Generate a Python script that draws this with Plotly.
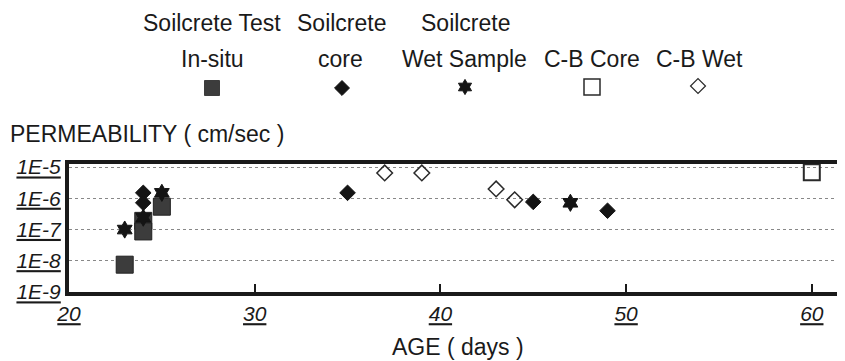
import plotly.graph_objects as go

# ---- data ----
insitu_days = [23, 24, 24, 25]
insitu_perm = [7.5e-9, 1.9e-7, 8.7e-8, 5.4e-7]

core_days = [24, 24, 35, 45, 49]
core_perm = [1.5e-6, 7.2e-7, 1.5e-6, 7.7e-7, 4.0e-7]

wet_days = [23, 24, 25, 47]
wet_perm = [1.0e-7, 2.4e-7, 1.5e-6, 7.2e-7]

cb_core_days = [60]
cb_core_perm = [6.9e-6]

cb_wet_days = [37, 39, 42, 43, 44]
cb_wet_perm = [6.5e-6, 6.5e-6, 1.26e-5, 2.0e-6, 9.0e-7]

x_ticks = [20, 30, 40, 50, 60]
x_minor_ticks = [25, 35, 45, 55]
y_ticks = [1e-9, 1e-8, 1e-7, 1e-6, 1e-5]
y_tick_labels = ["1E-9", "1E-8", "1E-7", "1E-6", "1E-5"]

legend_line1 = ["Soilcrete Test", "Soilcrete", "Soilcrete", "", ""]
legend_line2 = ["In-situ", "core", "Wet Sample", "C-B Core", "C-B Wet"]

FONT = "Arial, Liberation Sans, Helvetica, sans-serif"
INK = "#1a1a1a"

# the page body adds an 8px margin; the figure is sized to fill the window
OFF = 8
PAGE_W, PAGE_H = 845, 361
W, H = PAGE_W - OFF, PAGE_H - OFF


def px_x(p):
    return (p - OFF) / W


def px_y(p):
    return 1 - (p - OFF) / H


fig = go.Figure()


def add(x, y, symbol, size, fill, line_color, lw):
    fig.add_trace(go.Scatter(
        x=x, y=y, mode="markers", cliponaxis=False, showlegend=False,
        marker=dict(symbol=symbol, size=size, color=fill,
                    line=dict(color=line_color, width=lw)),
    ))


add(insitu_days, insitu_perm, "square", 17, "#3c3c3c", "#222", 1)
add(core_days, core_perm, "diamond", 12, "#141414", "#141414", 1)
add(wet_days, wet_perm, "hexagram", 13, "#141414", "#141414", 1)
add(cb_core_days, cb_core_perm, "square-open", 16, "#2a2a2a", "#2a2a2a", 2)
add(cb_wet_days, cb_wet_perm, "diamond-open", 12, "#2a2a2a", "#2a2a2a", 1.5)

# ---- legend (custom) on a page-pixel overlay axis ----
leg_x = [212, 342, 465, 592, 698]
leg_y = [88, 88, 87, 87, 86]
leg_sym = ["square", "diamond", "hexagram", "square-open", "diamond-open"]
leg_size = [15, 11.5, 11.5, 16, 11.5]
leg_fill = ["#3c3c3c", "#141414", "#141414", "#2a2a2a", "#2a2a2a"]
leg_lw = [1, 1, 1, 1.5, 1.2]
for i in range(5):
    fig.add_trace(go.Scatter(
        x=[leg_x[i]], y=[leg_y[i]], xaxis="x2", yaxis="y2", mode="markers",
        showlegend=False, cliponaxis=False,
        marker=dict(symbol=leg_sym[i], size=leg_size[i], color=leg_fill[i],
                    line=dict(color=leg_fill[i], width=leg_lw[i])),
    ))


def txt(x, y, t, anchor="center", size=23):
    return dict(x=px_x(x), y=px_y(y), xref="paper", yref="paper", text=t,
                xanchor=anchor, yanchor="middle", showarrow=False,
                font=dict(family=FONT, size=size, color=INK))


ann = []
line1_x = [212, 341, 465]
for i, t in enumerate(legend_line1[:3]):
    ann.append(txt(line1_x[i], 23, t))
line2_x = [212, 340, 464, 592, 699]
for i, t in enumerate(legend_line2):
    ann.append(txt(line2_x[i], 59, t))
ann.append(txt(8, 134, "PERMEABILITY ( cm/sec )", "left"))
ann.append(txt(458, 347, "AGE ( days )"))

# plot area in page pixels
pl, pt, pb = 69, 164, 292
xdom = [px_x(pl), 1]
ydom = [px_y(pb), px_y(pt)]
xr = [20, 20 + (PAGE_W - pl) / 18.57]
yr = [-9, -4.9]
minor_y = [m * 10 ** e for e in range(-9, -4) for m in range(2, 10)]

fig.update_layout(
    width=W, height=H,
    margin=dict(l=0, r=0, t=0, b=0, autoexpand=False),
    paper_bgcolor="white", plot_bgcolor="rgba(0,0,0,0)",
    annotations=ann,
    xaxis=dict(
        domain=xdom, range=xr, anchor="y",
        tickmode="array", tickvals=x_ticks,
        ticktext=[f"<u><i>{v}</i></u>" for v in x_ticks],
        ticks="inside", ticklen=8, tickwidth=2, tickcolor=INK,
        showline=True, linewidth=4, linecolor=INK, mirror=True,
        showgrid=False, zeroline=False, automargin=False,
        tickfont=dict(family=FONT, size=21, color=INK),
    ),
    yaxis=dict(
        type="log", domain=ydom, range=yr, anchor="x",
        tickmode="array", tickvals=y_ticks,
        ticktext=[f"<u><i>{t}</i></u>" for t in y_tick_labels],
        ticks="", showline=True, linewidth=4, linecolor=INK, mirror=False,
        showgrid=True, gridcolor="#888", griddash="dot", gridwidth=1,
        zeroline=False, automargin=False,
        tickfont=dict(family=FONT, size=21, color=INK),
    ),
    # minor tick axes overlaying the main ones
    xaxis3=dict(
        domain=xdom, range=xr, anchor="y", overlaying="x",
        tickmode="array", tickvals=x_minor_ticks, showticklabels=False,
        ticks="inside", ticklen=4, tickwidth=1.5, tickcolor=INK,
        showline=False, showgrid=False, zeroline=False, automargin=False,
    ),
    yaxis3=dict(
        type="log", domain=ydom, range=yr, anchor="x", overlaying="y",
        tickmode="array", tickvals=minor_y, showticklabels=False,
        ticks="inside", ticklen=4, tickwidth=1, tickcolor=INK,
        showline=False, showgrid=False, zeroline=False, automargin=False,
    ),
    xaxis2=dict(domain=[0, 1], range=[OFF, PAGE_W], visible=False,
                fixedrange=True, anchor="y2"),
    yaxis2=dict(domain=[0, 1], range=[PAGE_H, OFF], visible=False,
                fixedrange=True, anchor="x2"),
)

fig.write_html("out.html")
